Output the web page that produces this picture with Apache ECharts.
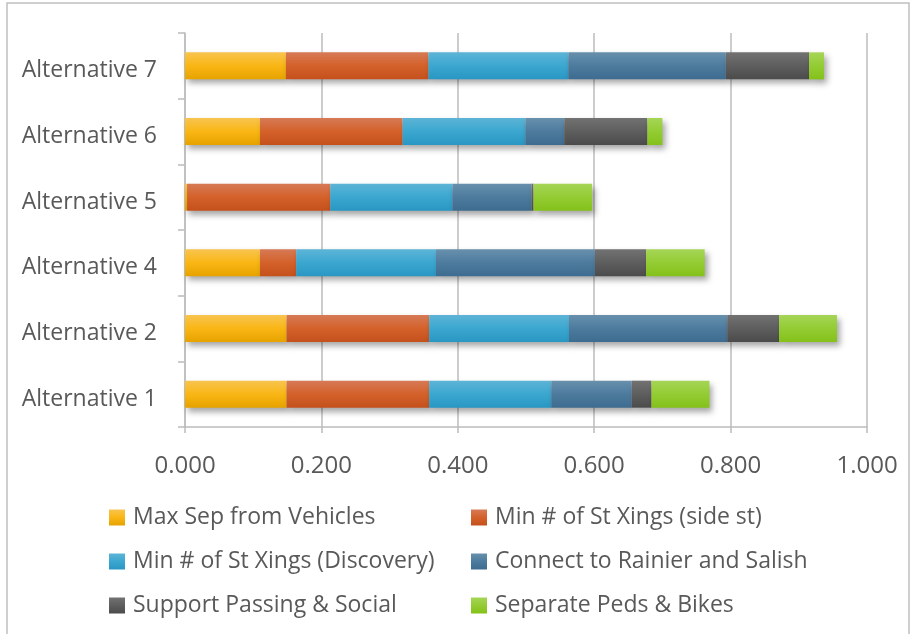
<!DOCTYPE html>
<html>
<head>
<meta charset="utf-8">
<script src="https://cdn.jsdelivr.net/npm/echarts@6/dist/echarts.min.js"></script>
<style>
  html, body { margin: 0; padding: 0; background: #fff; }
  #main { width: 914px; height: 634px; }
</style>
</head>
<body>
<div id="main"></div>
<script>
const alternatives = ['Alternative 1', 'Alternative 2', 'Alternative 4', 'Alternative 5', 'Alternative 6', 'Alternative 7'];

const maxSep      = [0.149, 0.149, 0.110, 0.003, 0.110, 0.148];
const xingsSide   = [0.209, 0.209, 0.053, 0.210, 0.209, 0.209];
const xingsDisc   = [0.179, 0.205, 0.205, 0.179, 0.180, 0.205];
const connect     = [0.118, 0.232, 0.233, 0.116, 0.057, 0.231];
const passing     = [0.029, 0.076, 0.075, 0.003, 0.122, 0.122];
const pedsBikes   = [0.085, 0.085, 0.086, 0.086, 0.022, 0.022];

const xTicks = [0, 0.2, 0.4, 0.6, 0.8, 1.0];

const FONT = '"Open Sans"';
const TXT = '#595959';

const chart = echarts.init(document.getElementById('main'));

function grad(top, mid, bottom) {
  return new echarts.graphic.LinearGradient(0, 0, 0, 1, [
    { offset: 0, color: top },
    { offset: 0.5, color: mid },
    { offset: 1, color: bottom }
  ]);
}

const seriesDefs = [
  { name: 'Max Sep from Vehicles', data: maxSep, color: grad('#f8c450', '#f9b614', '#e6a300') },
  { name: 'Min # of St Xings (side st)', data: xingsSide, color: grad('#d67a56', '#d4612a', '#c4501c') },
  { name: 'Min # of St Xings (Discovery)', data: xingsDisc, color: grad('#5db4d6', '#3ba7d0', '#2997c3') },
  { name: 'Connect to Rainier and Salish', data: connect, color: grad('#6890ad', '#4d7b9e', '#3e6c90') },
  { name: 'Support Passing & Social', data: passing, color: grad('#727272', '#5e5e5e', '#4b4b4b') },
  { name: 'Separate Peds & Bikes', data: pedsBikes, color: grad('#a6d557', '#93cc33', '#84c11a') }
];

const legendPos = [
  { left: 109, top: 506 }, { left: 471, top: 506 },
  { left: 109, top: 550 }, { left: 471, top: 550 },
  { left: 109, top: 594 }, { left: 471, top: 594 }
];

chart.setOption({
  backgroundColor: '#fff',
  animation: false,
  graphic: [{
    type: 'rect',
    shape: { x: 7, y: 3, width: 902, height: 640 },
    style: { fill: 'none', stroke: '#c0c0c0', lineWidth: 1.5 },
    silent: true
  }],
  grid: { left: 185, right: 47, top: 33, bottom: 207, containLabel: false },
  xAxis: {
    type: 'value',
    min: 0,
    max: 1,
    interval: 0.2,
    axisLine: { show: true, lineStyle: { color: '#bcbcbc', width: 1.5 } },
    axisTick: { show: true, length: 6, lineStyle: { color: '#bcbcbc', width: 1.5 } },
    splitLine: { show: true, lineStyle: { color: '#bcbcbc', width: 1.5 } },
    axisLabel: {
      margin: 27,
      color: TXT,
      fontFamily: FONT,
      fontSize: 24,
      formatter: v => xTicks.includes(+v.toFixed(1)) ? v.toFixed(3) : ''
    }
  },
  yAxis: {
    type: 'category',
    data: alternatives,
    axisLine: { show: true, lineStyle: { color: '#bcbcbc', width: 1.5 } },
    axisTick: { show: true, length: 7, lineStyle: { color: '#bcbcbc', width: 1.5 } },
    axisLabel: {
      margin: 28,
      formatter: '{a|{value}}',
      rich: {
        a: { color: TXT, fontFamily: FONT, fontSize: 23, padding: [10, 0, 0, 0] }
      }
    }
  },
  legend: seriesDefs.map((s, i) => ({
    data: [s.name],
    left: legendPos[i].left,
    top: legendPos[i].top,
    padding: 0,
    itemWidth: 16,
    itemHeight: 16,
    icon: 'rect',
    selectedMode: false,
    textStyle: { color: TXT, fontFamily: FONT, fontSize: 23, padding: [0, 0, 0, 3] }
  })),
  series: seriesDefs.map(s => ({
    name: s.name,
    type: 'bar',
    stack: 'total',
    data: s.data,
    barWidth: 27,
    itemStyle: {
      color: s.color,
      shadowBlur: 6,
      shadowOffsetX: 3,
      shadowOffsetY: 4,
      shadowColor: 'rgba(0,0,0,0.35)'
    }
  }))
});
</script>
</body>
</html>
